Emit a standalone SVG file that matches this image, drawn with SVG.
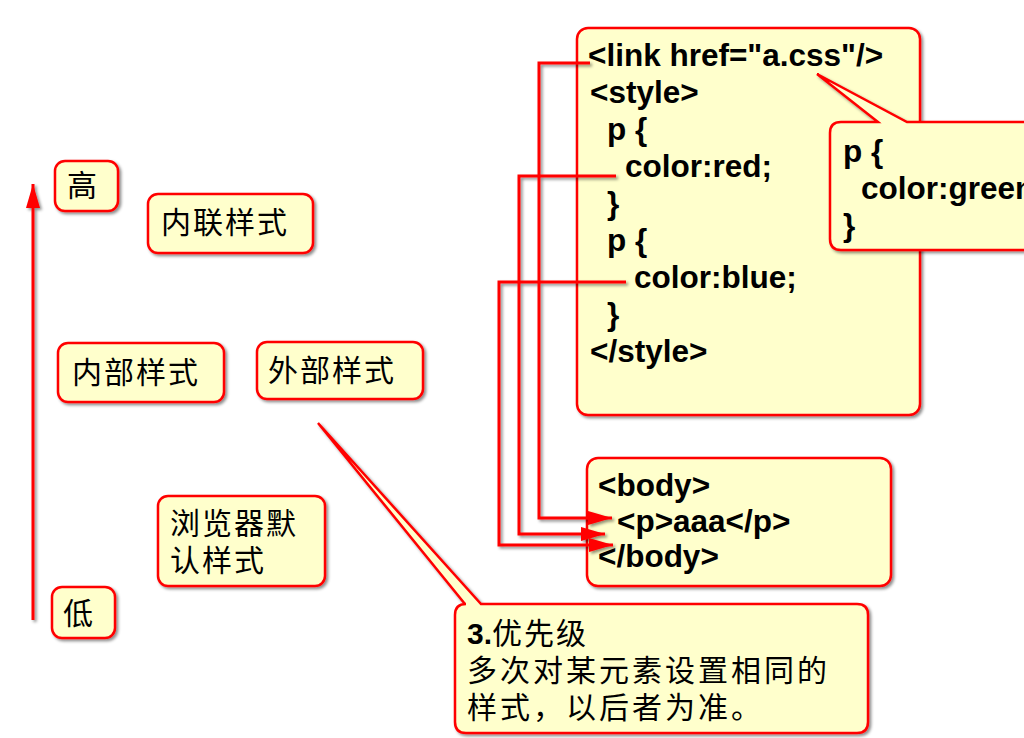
<svg xmlns="http://www.w3.org/2000/svg" width="1024" height="738" viewBox="0 0 1024 738">
<style>
.box{fill:#FFFFCC;stroke:#FF0000;stroke-width:2.5;filter:url(#sh)}
.code{font-family:"Liberation Sans",Arial,sans-serif;font-weight:bold;font-size:31.5px;fill:#000}
.cjk{font-family:"Noto Sans CJK SC","Liberation Sans",sans-serif;font-size:30px;fill:#000;letter-spacing:2px}
.con{fill:none;stroke:#FF0000;stroke-width:3}
</style>
<defs>
<filter id="sh" x="-10%" y="-10%" width="130%" height="130%">
<feDropShadow dx="2" dy="2" stdDeviation="1.5" flood-color="#000" flood-opacity="0.45"/>
</filter>
<marker id="ah" markerUnits="userSpaceOnUse" markerWidth="26" markerHeight="16" refX="24" refY="7" orient="auto">
<path d="M0,0 L24,7 L0,14 Z" fill="#FF0000"/>
</marker>
</defs>

<g id="code-box">
<rect class="box" x="577" y="28" width="343" height="387" rx="11"/>
<text class="code" x="588" y="66">&lt;link href="a.css"/&gt;</text>
<text class="code" x="590" y="103">&lt;style&gt;</text>
<text class="code" x="607" y="140">p {</text>
<text class="code" x="625" y="177">color:red;</text>
<text class="code" x="607" y="214">}</text>
<text class="code" x="607" y="251">p {</text>
<text class="code" x="634" y="288">color:blue;</text>
<text class="code" x="607" y="325">}</text>
<text class="code" x="590" y="362">&lt;/style&gt;</text>
</g>

<g id="css-callout">
<path class="box" d="M841,122 L878,122 L817,74 L907,122 L1040,122 L1040,250 L841,250 Q830,250 830,239 L830,133 Q830,122 841,122 Z"/>
<text class="code" x="843" y="162">p {</text>
<text class="code" x="861" y="199">color:green</text>
<text class="code" x="843" y="236">}</text>
</g>

<g id="body-box">
<rect class="box" x="587" y="458" width="304" height="128" rx="11"/>
<text class="code" x="598" y="496">&lt;body&gt;</text>
<text class="code" x="617" y="532">&lt;p&gt;aaa&lt;/p&gt;</text>
<text class="code" x="598" y="567">&lt;/body&gt;</text>
</g>

<g id="connectors" filter="url(#sh)">
<path class="con" d="M590,63 L539,63 L539,518 L612,518" marker-end="url(#ah)"/>
<path class="con" d="M616,176 L519,176 L519,534 L605,534" marker-end="url(#ah)"/>
<path class="con" d="M626,282 L499,282 L499,545 L613,545" marker-end="url(#ah)"/>
<path class="con" d="M33,620 L33,184" marker-end="url(#ah)"/>
</g>

<g id="high">
<rect class="box" x="55" y="161" width="63" height="50" rx="10"/>
<text class="cjk" x="67" y="196">高</text>
</g>

<g id="inline">
<rect class="box" x="148" y="194" width="165" height="59" rx="10"/>
<text class="cjk" x="161" y="233">内联样式</text>
</g>

<g id="internal">
<rect class="box" x="58" y="343" width="166" height="59" rx="10"/>
<text class="cjk" x="72" y="383">内部样式</text>
</g>

<g id="external">
<rect class="box" x="257" y="342" width="166" height="57" rx="10"/>
<text class="cjk" x="268" y="381">外部样式</text>
</g>

<g id="browser-default">
<rect class="box" x="158" y="496" width="167" height="90" rx="10"/>
<text class="cjk" x="170" y="534">浏览器默</text>
<text class="cjk" x="170" y="571">认样式</text>
</g>

<g id="low">
<rect class="box" x="52" y="587" width="63" height="51" rx="10"/>
<text class="cjk" x="63" y="624">低</text>
</g>

<g id="priority-callout">
<path class="box" d="M466,604 L465,604 L318,423 L481,604 L857,604 Q868,604 868,615 L868,722 Q868,733 857,733 L466,733 Q455,733 455,722 L455,615 Q455,604 466,604 Z"/>
<text class="cjk" x="467" y="644"><tspan style="font-family:'Liberation Sans',Arial,sans-serif;font-weight:bold;letter-spacing:0">3.</tspan>优先级</text>
<text class="cjk" x="467" y="681" style="letter-spacing:3px">多次对某元素设置相同的</text>
<text class="cjk" x="467" y="718" style="letter-spacing:3px">样式，以后者为准。</text>
</g>
</svg>
